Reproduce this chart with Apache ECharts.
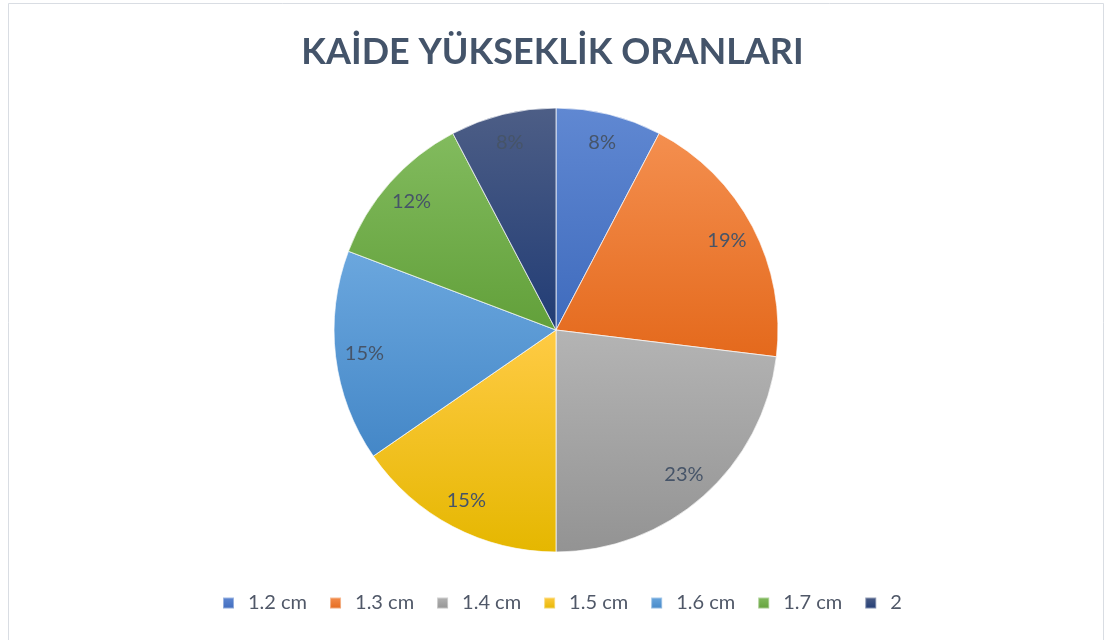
<!DOCTYPE html>
<html>
<head>
<meta charset="utf-8">
<script src="https://cdn.jsdelivr.net/npm/echarts@6/dist/echarts.min.js"></script>
<style>
  html, body { margin: 0; padding: 0; background: #fff; }
  #chart { width: 1105px; height: 640px; }
</style>
</head>
<body>
<div id="chart"></div>
<script>
// kaide yükseklikleri ve adetleri
var categories = ['1.2 cm', '1.3 cm', '1.4 cm', '1.5 cm', '1.6 cm', '1.7 cm', '2'];
var counts = [2, 5, 6, 4, 4, 3, 2];
// her dilim için üst / alt gradyan renkleri
var topColors = ['#6088d2', '#f48f4f', '#b4b4b4', '#ffcb45', '#6ba7de', '#82bb5e', '#4d5e86'];
var bottomColors = ['#3f6bbd', '#e4691c', '#939393', '#e5b700', '#4487c7', '#62a03a', '#213c75'];

var myChart = echarts.init(document.getElementById('chart'));

var pieData = categories.map(function (name, i) {
  return {
    name: name,
    value: counts[i],
    itemStyle: {
      color: new echarts.graphic.LinearGradient(0, 0, 0, 1, [
        { offset: 0, color: topColors[i] },
        { offset: 1, color: bottomColors[i] }
      ])
    }
  };
});

var labelData = categories.map(function (name, i) {
  return { name: name, value: counts[i] };
});

myChart.setOption({
  backgroundColor: '#fff',
  title: {
    text: 'KAİDE YÜKSEKLİK ORANLARI',
    left: 'center',
    top: 29,
    textStyle: {
      fontFamily: 'Lato',
      fontWeight: 'bold',
      fontSize: 36,
      color: '#44546a'
    }
  },
  legend: {
    data: categories,
    bottom: 22,
    left: 217,
    icon: 'rect',
    itemWidth: 11,
    itemHeight: 11,
    itemGap: 22,
    textStyle: {
      fontFamily: 'Lato',
      fontSize: 20,
      color: '#505868',
      padding: [0, 0, 0, 9]
    }
  },
  graphic: [{
    type: 'rect',
    shape: { x: 8.5, y: 3.5, width: 1095, height: 645 },
    style: { fill: 'none', stroke: '#d9dde3', lineWidth: 1 },
    silent: true
  }],
  series: [
    {
      type: 'pie',
      center: [556, 330],
      radius: [0, 222],
      startAngle: 90,
      silent: true,
      label: { show: false },
      labelLine: { show: false },
      itemStyle: { borderColor: 'rgba(255,255,255,0.4)', borderWidth: 1 },
      data: pieData
    },
    {
      // sadece yüzde etiketleri için saydam halka
      type: 'pie',
      center: [556, 330],
      radius: [158, 222],
      startAngle: 90,
      silent: true,
      percentPrecision: 0,
      itemStyle: { color: 'rgba(0,0,0,0)' },
      label: {
        show: true,
        position: 'inside',
        formatter: '{d}%',
        fontFamily: 'Lato',
        fontSize: 20,
        color: '#465468'
      },
      labelLine: { show: false },
      data: labelData
    }
  ]
});
</script>
</body>
</html>
